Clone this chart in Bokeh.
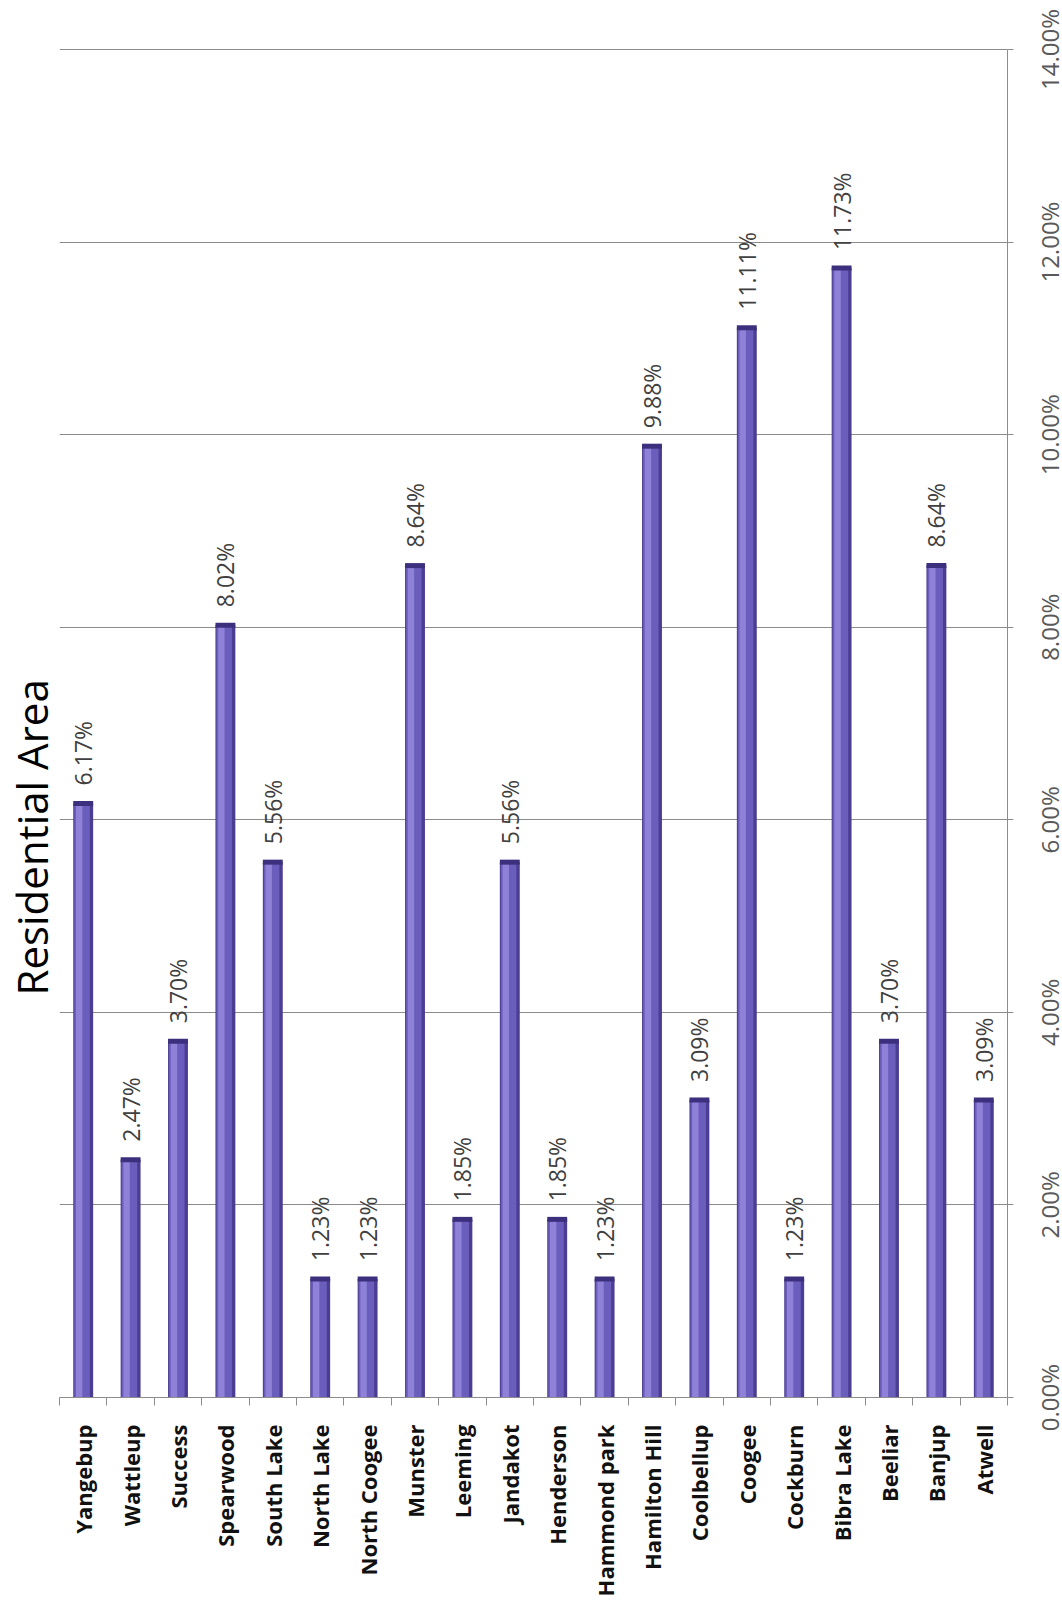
import math
from bokeh.plotting import figure
from bokeh.layouts import row
from bokeh.models import FixedTicker, ColumnDataSource, Range1d, Title
from bokeh.transform import dodge
from bokeh.core.properties import value
from bokeh.embed import file_html
from bokeh.resources import INLINE

# ---- data ----
suburbs = ["Yangebup", "Wattleup", "Success", "Spearwood", "South Lake",
           "North Lake", "North Coogee", "Munster", "Leeming", "Jandakot",
           "Henderson", "Hammond park", "Hamilton Hill", "Coolbellup", "Coogee",
           "Cockburn", "Bibra Lake", "Beeliar", "Banjup", "Atwell"]
shares = [6.17, 2.47, 3.70, 8.02, 5.56, 1.23, 1.23, 8.64, 1.85, 5.56,
          1.85, 1.23, 9.88, 3.09, 11.11, 1.23, 11.73, 3.70, 8.64, 3.09]
value_ticks = [0, 2, 4, 6, 8, 10, 12, 14]
value_tick_labels = [f"{t:.2f}%" for t in value_ticks]
title_text = "Residential Area"

# ---- layout constants ----
H = 1600
TOP, BOTTOM, LEFT, RIGHT = 8, 203, 58, 8
AXIS_TOP = 49                 # where the highest tick sits
W_MAIN = 1015
W_AXIS = 1062 - W_MAIN

n = len(suburbs)
xs = [i + 0.5 for i in range(n)]
bounds = list(range(n + 1))
src = ColumnDataSource(dict(x=xs, share=shares, name=suburbs,
                            label=[f"{v:.2f}%" for v in shares]))

y_max = max(value_ticks)
y_hi = y_max * (H - BOTTOM - TOP) / (H - BOTTOM - AXIS_TOP)
yr = Range1d(0, y_hi)

p = figure(width=W_MAIN, height=H, output_backend="svg", toolbar_location=None,
           x_range=Range1d(0, n), y_range=yr,
           y_axis_location="right",
           min_border_left=LEFT, min_border_right=RIGHT, min_border_top=TOP,
           min_border_bottom=BOTTOM)
p.outline_line_color = None
p.background_fill_color = "white"
p.border_fill_color = "white"

# grid
p.xgrid.grid_line_color = None
p.ygrid.grid_line_color = "#8C8C8C"
p.ygrid.grid_line_width = 1
p.ygrid.ticker = FixedTicker(ticks=value_ticks)

# value axis (right): line and ticks (labels drawn in the strip beside it)
ya = p.yaxis[0]
ya.ticker = FixedTicker(ticks=value_ticks)
ya.bounds = (0, y_max)
ya.major_label_text_color = None
ya.major_label_text_font_size = "1px"
ya.major_label_standoff = 0
ya.axis_line_color = "#8C8C8C"
ya.major_tick_line_color = "#8C8C8C"
ya.major_tick_out = 6
ya.major_tick_in = 0
ya.minor_tick_line_color = None

# category axis (bottom)
xa = p.xaxis[0]
xa.ticker = FixedTicker(ticks=xs, minor_ticks=bounds)
xa.major_label_overrides = {x: s for x, s in zip(xs, suburbs)}
xa.major_label_orientation = math.pi / 2
xa.major_label_text_font = "Open Sans"
xa.major_label_text_font_style = "bold"
xa.major_label_text_font_size = "22px"
xa.major_label_text_color = "#111111"
xa.major_label_standoff = 19
xa.major_tick_line_color = None
xa.major_tick_out = 0
xa.major_tick_in = 0
xa.minor_tick_line_color = "#8C8C8C"
xa.minor_tick_out = 8
xa.minor_tick_in = 0
xa.axis_line_color = "#8C8C8C"

# bars (cylinder look: dark body, mid tone, highlight, dark cap)
bw = 0.42
p.vbar(x="x", top="share", bottom=0, width=bw, source=src,
       fill_color="#4B3E92", line_color=None)
p.vbar(x=dodge("x", -0.025), top="share", bottom=0, width=bw * 0.78, source=src,
       fill_color="#6B5DBB", line_color=None)
p.vbar(x=dodge("x", -0.085), top="share", bottom=0, width=bw * 0.32, source=src,
       fill_color="#8E81D7", line_color=None)
p.rect(x="x", y="share", width=bw, height=5, height_units="screen", source=src,
       fill_color="#3C307E", line_color=None)

# value labels
p.text(x="x", y="share", text="label", source=src, angle=math.pi / 2,
       text_align="left", text_baseline="middle", y_offset=-18,
       text_font=value("Open Sans"), text_font_size="23px", text_color="#404040")

# title on the left
p.add_layout(Title(text=title_text, align="left", text_font="Open Sans",
                   text_font_size="42px", text_font_style="normal",
                   text_color="#000000", standoff=0, offset=402), "left")

# strip carrying the value-axis tick labels, on the same vertical scale
q = figure(width=W_AXIS, height=H, output_backend="svg", toolbar_location=None,
           x_range=Range1d(0, W_AXIS), y_range=yr,
           x_axis_location=None, y_axis_location=None,
           min_border_left=0, min_border_right=0, min_border_top=TOP,
           min_border_bottom=BOTTOM)
if "frame_align" in q.properties():
    # let the strip's frame span the full height, with the same pixel scale
    p.frame_align = False
    q.frame_align = False
    k = (H - BOTTOM - AXIS_TOP) / y_max      # pixels per percentage point
    q.min_border_top = 0
    q.min_border_bottom = 0
    q.y_range = Range1d(-BOTTOM / k, y_max + AXIS_TOP / k)
q.outline_line_color = None
q.xgrid.visible = False
q.ygrid.visible = False
q.text(x=[34] * len(value_ticks), y=value_ticks, text=value_tick_labels,
       angle=math.pi / 2, text_align="center", text_baseline="middle",
       text_font=value("Open Sans"), text_font_size="24px", text_color="#595959")

layout = row(p, q, spacing=0)
open("out.html", "w").write(file_html(layout, INLINE))
